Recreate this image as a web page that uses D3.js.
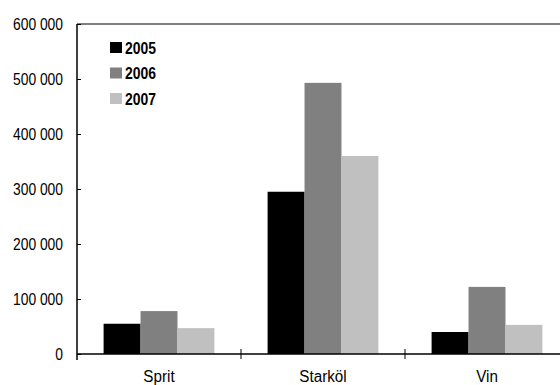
<!DOCTYPE html>
<html>
<head>
<meta charset="utf-8">
<script src="https://cdn.jsdelivr.net/npm/d3@7"></script>
<style>
  html, body { margin: 0; padding: 0; background: #fff; }
  svg { display: block; }
  text { font-family: "Liberation Sans", Arial, sans-serif; fill: #000; }
</style>
</head>
<body>
<svg id="chart" width="560" height="385"></svg>
<script>
// Categories, series and values
const categories = ["Sprit", "Starköl", "Vin"];
const years = ["2005", "2006", "2007"];
const values2005 = [55000, 295000, 40000];
const values2006 = [78000, 493000, 122000];
const values2007 = [47000, 360000, 53000];
const yTicks = [0, 100000, 200000, 300000, 400000, 500000, 600000];
const colors = ["#000000", "#808080", "#c0c0c0"];

const series = [values2005, values2006, values2007];
const rows = categories.map((c, i) => ({ category: c, vals: series.map(s => s[i]) }));

const svg = d3.select("#chart");
const margin = { top: 24, left: 77, bottom: 31 };
const plotW = 492;
const height = 385 - margin.top - margin.bottom;

const x = d3.scaleBand().domain(categories).range([margin.left, margin.left + plotW]).paddingInner(0).paddingOuter(0);
const xInner = d3.scaleBand().domain(years).range([0, x.bandwidth()]).paddingOuter(0.72).paddingInner(0);
const y = d3.scaleLinear().domain([0, 600000]).range([margin.top + height, margin.top]);

const fmt = v => d3.format(",")(v).replace(/,/g, " ");

// Squeeze a text horizontally to a narrower, condensed look
function condense(sel, k) {
  sel.each(function () {
    const w = this.getComputedTextLength();
    this.setAttribute("textLength", (w * k).toFixed(2));
    this.setAttribute("lengthAdjust", "spacingAndGlyphs");
  });
}

// Bars
const groups = svg.append("g").selectAll("g").data(rows).join("g")
  .attr("transform", d => `translate(${x(d.category)},0)`);
groups.selectAll("rect").data(d => d.vals.map((v, i) => ({ year: years[i], v, i }))).join("rect")
  .attr("x", d => xInner(d.year))
  .attr("width", xInner.bandwidth())
  .attr("y", d => y(d.v))
  .attr("height", d => y(0) - y(d.v))
  .attr("fill", d => colors[d.i]);

// Top frame line
svg.append("line")
  .attr("x1", margin.left).attr("x2", margin.left + plotW)
  .attr("y1", margin.top).attr("y2", margin.top)
  .attr("stroke", "#555").attr("stroke-width", 1.5);

// Y axis
const yAxis = svg.append("g")
  .attr("transform", `translate(${margin.left},0)`)
  .call(d3.axisLeft(y).tickValues(yTicks).tickFormat(fmt).tickSizeInner(-4).tickSizeOuter(0).tickPadding(14));
yAxis.select(".domain").attr("stroke", "#000").attr("stroke-width", 1.5)
  .attr("d", `M0,${margin.top}V${y(0) + 6}`);
yAxis.selectAll(".tick line").attr("stroke", "#000");
yAxis.selectAll(".tick text").attr("font-size", 16).attr("font-family", null).attr("dy", "0.34em");
condense(yAxis.selectAll(".tick text"), 0.865);

// X axis with boundary ticks between categories
const xAxis = svg.append("g").attr("transform", `translate(0,${y(0)})`);
xAxis.append("line").attr("x1", margin.left).attr("x2", margin.left + plotW)
  .attr("stroke", "#000").attr("stroke-width", 1.5);
xAxis.selectAll("line.bound").data(categories.slice(1)).join("line")
  .attr("class", "bound")
  .attr("x1", d => x(d)).attr("x2", d => x(d))
  .attr("y1", -5).attr("y2", 5)
  .attr("stroke", "#000");
xAxis.selectAll("text").data(categories).join("text")
  .attr("x", d => x(d) + x.bandwidth() / 2)
  .attr("y", 28)
  .attr("text-anchor", "middle")
  .attr("font-size", 16)
  .text(d => d);
condense(xAxis.selectAll("text"), 0.95);

// Legend
const legend = svg.append("g").attr("transform", "translate(110,42)");
const items = legend.selectAll("g").data(years).join("g")
  .attr("transform", (d, i) => `translate(0,${i * 25.5})`);
items.append("rect").attr("width", 12).attr("height", 11).attr("fill", (d, i) => colors[i]);
items.append("text").attr("x", 15).attr("y", 11.5)
  .attr("font-size", 16).attr("font-weight", "bold").text(d => d);
condense(items.selectAll("text"), 0.87);
</script>
</body>
</html>
